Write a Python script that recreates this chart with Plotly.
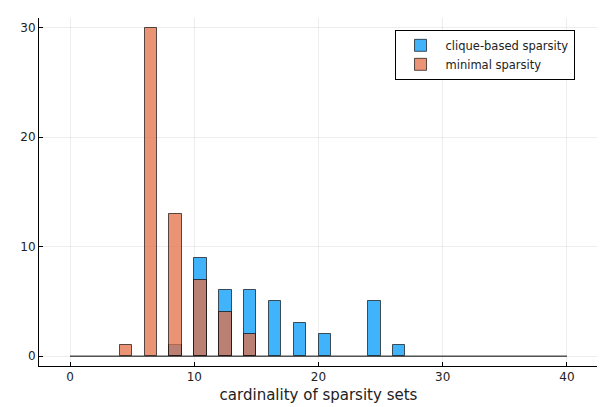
import plotly.graph_objects as go

# histogram bins (width 1) from 0 to 40
bin_start = 0
bin_end = 40
bin_size = 1

# cardinality values (left bin edge) and counts
clique_card = [8, 10, 12, 14, 16, 18, 20, 24, 26]
clique_count = [1, 9, 6, 6, 5, 3, 2, 5, 1]

minimal_card = [4, 6, 8, 10, 12, 14]
minimal_count = [1, 30, 13, 7, 4, 2]

x_ticks = [0, 10, 20, 30, 40]
y_ticks = [0, 10, 20, 30]

BLUE = "rgba(0,154,250,0.75)"
ORANGE = "rgba(227,111,71,0.75)"
EDGE = "rgba(0,0,0,0.65)"

fig = go.Figure()

def centers(edges):
    return [e + bin_size / 2 for e in edges]

fig.add_trace(go.Bar(
    x=centers(clique_card), y=clique_count, width=bin_size,
    name="clique-based sparsity",
    marker=dict(color=BLUE, line=dict(color=EDGE, width=1)),
))
fig.add_trace(go.Bar(
    x=centers(minimal_card), y=minimal_count, width=bin_size,
    name="minimal sparsity",
    marker=dict(color=ORANGE, line=dict(color=EDGE, width=1)),
))

# zero-height bins appear as a baseline across the full bin range
fig.add_shape(type="line", x0=bin_start, x1=bin_end, y0=0, y1=0,
              xref="x", yref="y", line=dict(color="black", width=1), layer="below")

fig.update_layout(
    width=597, height=399,
    margin=dict(l=31, r=7, t=10, b=41, autoexpand=False),
    paper_bgcolor="white", plot_bgcolor="white",
    barmode="overlay", bargap=0,
    font=dict(family="DejaVu Sans", color="#222222", size=12),
    showlegend=True,
    legend=dict(
        x=0.958, y=0.966, xanchor="right", yanchor="top",
        bordercolor="black", borderwidth=1, bgcolor="white",
        font=dict(size=11.5, color="#222222"),
        tracegroupgap=0, itemwidth=40,
    ),
    xaxis=dict(
        range=[-2.5, 42.5], tickvals=x_ticks, automargin=False,
        showgrid=True, gridcolor="rgba(0,0,0,0.07)", gridwidth=0.5,
        showline=True, linecolor="black", linewidth=1,
        ticks="inside", ticklen=4, tickcolor="black",
        zeroline=False,
        title=dict(text="cardinality of sparsity sets", font=dict(size=15), standoff=6),
    ),
    yaxis=dict(
        range=[-0.9, 30.9], tickvals=y_ticks, automargin=False,
        showgrid=True, gridcolor="rgba(0,0,0,0.07)", gridwidth=0.5,
        showline=True, linecolor="black", linewidth=1,
        ticks="inside", ticklen=4, tickcolor="black",
        zeroline=False,
    ),
)

fig.write_html("out.html")
